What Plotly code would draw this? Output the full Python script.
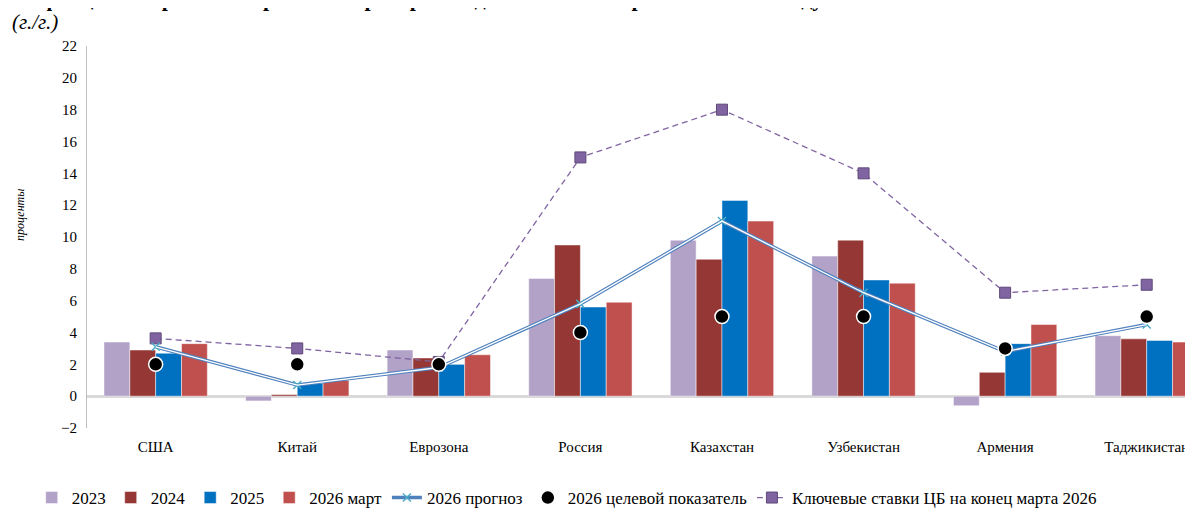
import plotly.graph_objects as go

countries = ["США", "Китай", "Еврозона", "Россия", "Казахстан", "Узбекистан", "Армения", "Таджикистан"]
v2023 = [3.4, -0.3, 2.9, 7.4, 9.8, 8.8, -0.6, 3.8]
v2024 = [2.9, 0.1, 2.4, 9.5, 8.6, 9.8, 1.5, 3.6]
v2025 = [2.7, 0.8, 2.0, 5.6, 12.3, 7.3, 3.3, 3.5]
v2026_mar = [3.3, 1.0, 2.6, 5.9, 11.0, 7.1, 4.5, 3.4]
forecast_2026 = [3.1, 0.7, 1.8, 5.8, 11.0, 6.5, 2.8, 4.5]
target_2026 = [2.0, 2.0, 2.0, 4.0, 5.0, 5.0, 3.0, 5.0]
key_rates = [3.63, 3.0, 2.15, 15.0, 18.0, 14.0, 6.5, 7.0]
y_ticks = list(range(-2, 23, 2))

SERIF = "Liberation Serif, Times New Roman, serif"

fig = go.Figure()
bar_specs = [("2023", v2023, "#b3a2c7"), ("2024", v2024, "#953735"),
             ("2025", v2025, "#0070c0"), ("2026 март", v2026_mar, "#c0504d")]
for i, (name, vals, col) in enumerate(bar_specs):
    fig.add_trace(go.Bar(x=countries, y=vals, name=name, marker_color=col,
                         marker_line=dict(color="rgba(255,255,255,0.6)", width=0.8),
                         legendrank=i + 1))

fig.add_trace(go.Scatter(x=countries, y=key_rates, name="Ключевые ставки ЦБ на конец марта 2026",
                         mode="lines+markers",
                         line=dict(color="#8064a2", width=1.3, dash="6px,4px"),
                         marker=dict(symbol="square", size=11, color="#8064a2",
                                     line=dict(color="#5f497a", width=1)),
                         legendrank=7))
fig.add_trace(go.Scatter(x=countries, y=forecast_2026, name="2026 прогноз",
                         mode="lines+markers",
                         line=dict(color="#4f81bd", width=3.6),
                         marker=dict(symbol="x-thin", size=8, color="#4bacc6",
                                     line=dict(color="#4bacc6", width=1.5)),
                         legendrank=5))
fig.add_trace(go.Scatter(x=countries, y=forecast_2026, showlegend=False, hoverinfo="skip",
                         mode="lines", line=dict(color="white", width=1.3)))
fig.add_trace(go.Scatter(x=countries, y=target_2026, name="2026 целевой показатель",
                         mode="markers",
                         marker=dict(symbol="circle", size=14, color="black",
                                     line=dict(color="white", width=1.5)),
                         legendrank=6))

fig.update_layout(
    width=1185, height=508,
    margin=dict(l=79, r=0, t=38, b=88),
    paper_bgcolor="white", plot_bgcolor="white",
    barmode="group", bargap=0.27, bargroupgap=0,
    font=dict(family=SERIF, size=15, color="black"),
    legend=dict(orientation="h", xref="container", yref="container",
                x=0.02, y=0.0, xanchor="left", yanchor="bottom",
                font=dict(family=SERIF, size=17), traceorder="normal",
                itemwidth=30, tracegroupgap=0),
    xaxis=dict(range=[-0.485, 7.327], showline=False, ticks="", showgrid=False,
               tickfont=dict(family=SERIF, size=15), ticklabelstandoff=8),
    yaxis=dict(range=[-2, 22], tickvals=y_ticks, showgrid=False,
               showline=True, linecolor="#bfbfbf", linewidth=1,
               zeroline=True, zerolinecolor="#d9d9d9", zerolinewidth=3,
               ticks="", tickfont=dict(family=SERIF, size=15), ticklabelstandoff=6),
    annotations=[
        dict(text="<b>Инфляция в странах – торговых партнерах Таджикистана и прогноз по 2026 году.</b>",
             xref="paper", yref="paper", x=-0.0696, y=1.1246, xanchor="left", yanchor="middle",
             showarrow=False, font=dict(family=SERIF, size=22, color="black")),
        dict(text="<i>(г./г.)</i>", xref="paper", yref="paper", x=-0.0696, y=1.063,
             xanchor="left", yanchor="middle", showarrow=False,
             font=dict(family=SERIF, size=21, color="black")),
        dict(text="<i>проценты</i>", xref="paper", yref="paper", x=-0.0606, y=0.5576,
             xanchor="center", yanchor="middle", textangle=-90, showarrow=False,
             font=dict(family=SERIF, size=12, color="black")),
    ],
)

fig.write_html("out.html")
